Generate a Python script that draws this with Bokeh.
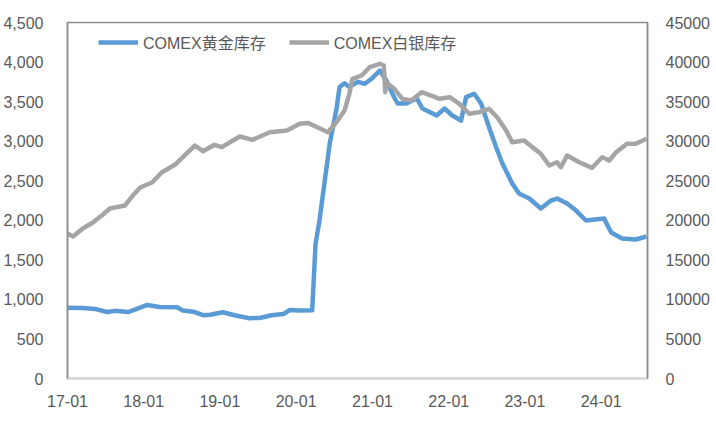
import pandas as pd
from bokeh.plotting import figure
from bokeh.models import (Range1d, LinearAxis, FixedTicker, NumeralTickFormatter,
                          DatetimeTickFormatter, Legend, LegendItem)
from bokeh.embed import file_html
from bokeh.resources import INLINE

# ---------------- data ----------------
gold_dates = ["2017-01-01", "2017-03-15", "2017-05-12", "2017-07-10", "2017-08-15",
              "2017-10-18", "2017-11-20", "2018-01-18", "2018-03-18", "2018-06-10",
              "2018-07-07", "2018-09-03", "2018-10-12", "2018-11-15", "2019-01-15",
              "2019-03-12", "2019-05-22", "2019-07-10", "2019-09-06", "2019-11-01",
              "2019-12-01", "2020-01-18", "2020-03-18", "2020-04-03", "2020-04-22",
              "2020-06-10", "2020-07-12", "2020-07-27", "2020-08-20", "2020-09-12",
              "2020-10-22", "2020-11-25", "2020-12-28", "2021-02-05", "2021-03-08",
              "2021-04-06", "2021-05-01", "2021-06-12", "2021-08-01", "2021-08-28",
              "2021-11-04", "2021-12-12", "2022-01-18", "2022-03-01", "2022-03-25",
              "2022-05-03", "2022-06-05", "2022-07-13", "2022-08-16", "2022-09-15",
              "2022-11-01", "2022-12-04", "2023-01-22", "2023-03-18", "2023-05-06",
              "2023-06-04", "2023-07-22", "2023-09-03", "2023-10-20", "2024-01-15",
              "2024-02-18", "2024-04-10", "2024-06-15", "2024-08-05"]
gold_values = [895, 890, 880, 840, 855,
               840, 870, 930, 905, 900,
               860, 840, 800, 805, 838,
               800, 762, 765, 800, 815,
               865, 860, 862, 1700, 2000,
               2970, 3400, 3685, 3730, 3685,
               3750, 3726, 3790, 3893, 3767,
               3600, 3476, 3476, 3540, 3413,
               3325, 3413, 3325, 3261, 3556,
               3600, 3476, 3177, 2923, 2717,
               2465, 2338, 2275, 2149, 2250,
               2275, 2212, 2123, 1997, 2022,
               1845, 1770, 1757, 1795]

silver_dates = ["2017-01-01", "2017-01-28", "2017-03-15", "2017-05-03", "2017-06-20",
                "2017-07-23", "2017-10-03", "2017-11-06", "2017-12-15", "2018-02-10",
                "2018-03-28", "2018-06-01", "2018-07-16", "2018-09-03", "2018-10-12",
                "2018-12-06", "2019-01-10", "2019-04-06", "2019-06-06", "2019-08-28",
                "2019-11-18", "2020-01-18", "2020-02-27", "2020-04-12", "2020-06-01",
                "2020-07-12", "2020-08-20", "2020-09-12", "2020-09-27", "2020-11-10",
                "2020-12-18", "2021-02-05", "2021-02-24", "2021-03-03", "2021-03-06",
                "2021-04-15", "2021-05-24", "2021-07-06", "2021-08-24", "2021-10-09",
                "2021-11-18", "2022-01-06", "2022-02-21", "2022-04-09", "2022-05-27",
                "2022-07-13", "2022-08-21", "2022-10-03", "2022-11-01", "2022-12-28",
                "2023-02-06", "2023-03-18", "2023-04-28", "2023-06-04", "2023-06-22",
                "2023-07-22", "2023-09-18", "2023-11-18", "2024-01-06", "2024-02-09",
                "2024-03-13", "2024-05-04", "2024-06-15", "2024-08-05"]
silver_values = [18330, 17950, 18960, 19720, 20730,
                 21490, 21870, 23000, 24140, 24770,
                 26040, 27050, 28190, 29450, 28730,
                 29540, 29240, 30590, 30170, 31130,
                 31350, 32190, 32300, 31760, 31130,
                 32400, 33880, 35990, 37880, 38300,
                 39350, 39780, 39560, 36190, 37450,
                 36620, 35350, 35140, 36190, 35770,
                 35350, 35560, 34720, 33460, 33670,
                 34090, 33030, 31350, 29870, 30080,
                 29240, 28400, 26920, 27340, 26710,
                 28190, 27340, 26630, 27970, 27550,
                 28610, 29670, 29670, 30300]

x_tick_years = [2017, 2018, 2019, 2020, 2021, 2022, 2023, 2024]
left_ticks = [0, 500, 1000, 1500, 2000, 2500, 3000, 3500, 4000, 4500]
right_ticks = [0, 5000, 10000, 15000, 20000, 25000, 30000, 35000, 40000, 45000]
series_names = ["COMEX黄金库存", "COMEX白银库存"]

# ---------------- figure ----------------
TXT = "#595959"
FONT = "Liberation Sans"

gx = pd.to_datetime(gold_dates)
sx = pd.to_datetime(silver_dates)

p = figure(width=712, height=429, x_axis_type="datetime",
           x_range=Range1d(pd.Timestamp("2017-01-01"), pd.Timestamp("2024-08-10")),
           y_range=Range1d(0, 4500),
           output_backend="svg", toolbar_location=None,
           min_border_left=67, min_border_right=61, min_border_top=22, min_border_bottom=51)
p.extra_y_ranges = {"silver": Range1d(0, 45000)}

p.xgrid.visible = False
p.ygrid.visible = False
p.outline_line_color = "#8C8C8C"
p.outline_line_width = 1.5
p.background_fill_color = "white"
p.border_fill_color = "white"

r_gold = p.line(gx, gold_values, line_color="#5B9BD5", line_width=4.5, line_join="round")
r_silver = p.line(sx, silver_values, line_color="#A5A5A5", line_width=4.5, line_join="round",
                  y_range_name="silver")

# left axis
ya = p.yaxis[0]
ya.ticker = FixedTicker(ticks=left_ticks)
ya.formatter = NumeralTickFormatter(format="0,0")
ya.axis_line_color = "#8C8C8C"
ya.axis_line_width = 1.5
ya.major_tick_line_color = None
ya.minor_tick_line_color = None
ya.major_label_text_color = TXT
ya.major_label_text_font = FONT
ya.major_label_text_font_size = "16px"
ya.major_label_standoff = 18

# right axis
ra = LinearAxis(y_range_name="silver", ticker=FixedTicker(ticks=right_ticks),
                formatter=NumeralTickFormatter(format="0"))
ra.axis_line_color = "#8C8C8C"
ra.axis_line_width = 1.5
ra.major_tick_line_color = None
ra.minor_tick_line_color = None
ra.major_label_text_color = TXT
ra.major_label_text_font = FONT
ra.major_label_text_font_size = "16px"
ra.major_label_standoff = 12
p.add_layout(ra, "right")

# bottom axis
xa = p.xaxis[0]
xa.ticker = FixedTicker(ticks=[pd.Timestamp(f"{y}-01-01").value / 1e6 for y in x_tick_years])
fmt = "%y-%m"
xa.formatter = DatetimeTickFormatter(years=fmt, months=fmt, days=fmt, hours=fmt,
                                     minutes=fmt, seconds=fmt, milliseconds=fmt,
                                     microseconds=fmt, hourmin=fmt, minsec=fmt)
xa.axis_line_color = "#D9D9D9"
xa.axis_line_width = 2.5
xa.major_tick_line_color = None
xa.minor_tick_line_color = None
xa.major_label_text_color = TXT
xa.major_label_text_font = FONT
xa.major_label_text_font_size = "16px"
xa.major_label_standoff = 10

legend = Legend(items=[LegendItem(label=series_names[0], renderers=[r_gold]),
                       LegendItem(label=series_names[1], renderers=[r_silver])],
                orientation="horizontal", location=(31, 324),
                glyph_width=40, glyph_height=20, label_standoff=5, spacing=23,
                padding=0, margin=0, border_line_color=None, background_fill_alpha=0,
                label_text_font="Liberation Sans, Noto Sans CJK SC",
                label_text_font_size="16px", label_text_color=TXT,
                label_height=20)
p.add_layout(legend, "center")

open("out.html", "w").write(file_html(p, INLINE))
